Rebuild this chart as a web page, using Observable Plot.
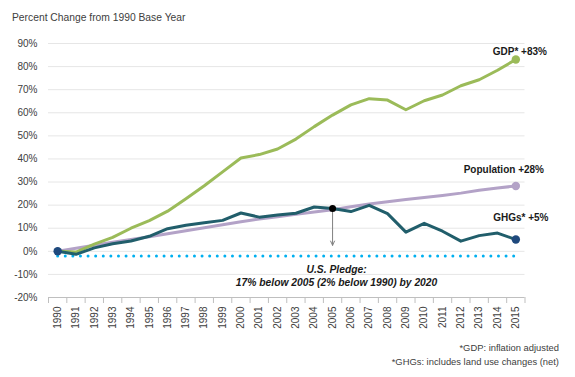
<!DOCTYPE html>
<html>
<head>
<meta charset="utf-8">
<script src="https://cdn.jsdelivr.net/npm/d3@7"></script>
<script src="https://cdn.jsdelivr.net/npm/@observablehq/plot@0.6"></script>
<style>
  html, body { margin: 0; padding: 0; background: #fff; }
  #wrap { position: relative; width: 575px; height: 377px; font-family: "Liberation Sans", Arial, sans-serif; }
  #title { position: absolute; left: 12px; top: 12px; font-size: 10.3px; line-height: 12px; color: #404040; }
  #notes { position: absolute; right: 16px; top: 341px; font-size: 9.4px; line-height: 13.7px; color: #404040; text-align: right; }
  svg { position: absolute; left: 0; top: 0; }
</style>
</head>
<body>
<div id="wrap">
  <div id="chart"></div>
  <div id="title">Percent Change from 1990 Base Year</div>
  <div id="notes">*GDP: inflation adjusted<br>*GHGs: includes land use changes (net)</div>
</div>
<script>
const years = d3.range(1990, 2016);
const gdp = [0, -0.3, 3.1, 6.0, 10.0, 13.3, 17.4, 22.8, 28.4, 34.4, 40.4, 41.9, 44.3, 48.6, 54.0, 59.0, 63.4, 66.1, 65.5, 61.3, 65.2, 67.7, 71.7, 74.3, 78.4, 83.1];
const population = [0, 1.3, 2.6, 3.9, 5.1, 6.3, 7.6, 8.9, 10.2, 11.5, 12.8, 14.0, 15.0, 16.0, 17.0, 18.0, 19.3, 20.5, 21.5, 22.4, 23.3, 24.2, 25.2, 26.4, 27.4, 28.3];
const ghg = [0, -1.3, 1.5, 3.3, 4.5, 6.5, 9.8, 11.3, 12.4, 13.4, 16.6, 14.8, 15.7, 16.5, 19.2, 18.5, 17.2, 19.9, 16.3, 8.3, 12.1, 8.7, 4.4, 6.8, 7.9, 5.1];
const pledgeLevel = -2;
const pledgeYear = 2005;
const arrowEnd = 2.6;
const yTicks = [-20, -10, 0, 10, 20, 30, 40, 50, 60, 70, 80, 90];
const seriesLabels = [
  {key: "gdp", text: "GDP* +83%"},
  {key: "population", text: "Population +28%"},
  {key: "ghg", text: "GHGs* +5%"}
];
const pledgeText = "U.S. Pledge:\n17% below 2005 (2% below 1990) by 2020";

const colors = {gdp: "#9BBB59", population: "#B3A2C7", ghg: "#215E6B", ghgDot: "#1F497D"};

const rows = (arr) => years.map((y, i) => ({year: y, value: arr[i]}));
const gdpRows = rows(gdp), popRows = rows(population), ghgRows = rows(ghg);
const last = (r) => r[r.length - 1];
const pledgeRows = [{year: years[0], value: pledgeLevel}, {year: years[years.length - 1], value: pledgeLevel}];
const iPledge = years.indexOf(pledgeYear);
const bounds = years.map(y => y - 0.5).concat([years[years.length - 1] + 0.5]);

const labelPos = {
  gdp: {row: last(gdpRows), dx: 4, dy: -8, weight: "bold"},
  population: {row: last(popRows), dx: -12, dy: -16, weight: "bold"},
  ghg: {row: last(ghgRows), dx: 5, dy: -21.5, weight: "bold"}
};

const chart = Plot.plot({
  width: 575,
  height: 377,
  marginLeft: 48,
  marginRight: 50.5,
  marginTop: 43,
  marginBottom: 80,
  style: {fontFamily: "Liberation Sans, Arial, sans-serif", fontSize: "10px", background: "transparent", overflow: "visible"},
  x: {domain: [years[0] - 0.5, years[years.length - 1] + 0.5], label: null},
  y: {domain: [-20, 90], label: null},
  marks: [
    Plot.gridY(yTicks.filter(d => d > -20), {stroke: "#e6e6e6", strokeOpacity: 1}),
    Plot.ruleY([-20], {stroke: "#bfbfbf"}),
    Plot.axisY(yTicks, {tickSize: 0, tickPadding: 11, tickFormat: d => d + "%", fill: "#404040", fontSize: 10}),
    Plot.axisX(years, {tickSize: 0, tickPadding: 9, tickRotate: -90, tickFormat: d => String(d), fill: "#404040", fontSize: 10}),
    Plot.axisX(bounds, {tickSize: 6, stroke: "#bfbfbf", tickFormat: () => ""}),
    Plot.lineY(pledgeRows, {x: "year", y: "value", stroke: "#00B0F0", strokeWidth: 3, strokeDasharray: "0 7.6", strokeLinecap: "round"}),
    Plot.lineY(popRows, {x: "year", y: "value", stroke: colors.population, strokeWidth: 3}),
    Plot.lineY(gdpRows, {x: "year", y: "value", stroke: colors.gdp, strokeWidth: 3}),
    Plot.lineY(ghgRows, {x: "year", y: "value", stroke: colors.ghg, strokeWidth: 3}),
    Plot.arrow([ghgRows[iPledge]], {x1: "year", y1: "value", x2: "year", y2: () => arrowEnd, stroke: "#808080", strokeWidth: 1, headLength: 7, headAngle: 50}),
    Plot.dot([last(gdpRows)], {x: "year", y: "value", r: 4.2, fill: colors.gdp}),
    Plot.dot([last(popRows)], {x: "year", y: "value", r: 4.2, fill: colors.population}),
    Plot.dot([ghgRows[0], last(ghgRows)], {x: "year", y: "value", r: 4.2, fill: colors.ghgDot}),
    Plot.dot([ghgRows[iPledge]], {x: "year", y: "value", r: 3.5, fill: "#000"}),
    ...seriesLabels.map(l => Plot.text([labelPos[l.key].row], {
      x: "year", y: "value", text: () => l.text, dx: labelPos[l.key].dx, dy: labelPos[l.key].dy,
      fontSize: 10, fontWeight: labelPos[l.key].weight, fill: "#1a1a1a"
    })),
    Plot.text([{year: pledgeYear, value: -10.5}], {x: "year", y: "value", text: () => pledgeText, dx: 4, fontSize: 10.3, fontWeight: "bold", fontStyle: "italic", lineHeight: 1.2, fill: "#1a1a1a"})
  ]
});
document.getElementById("chart").appendChild(chart);
</script>
</body>
</html>
